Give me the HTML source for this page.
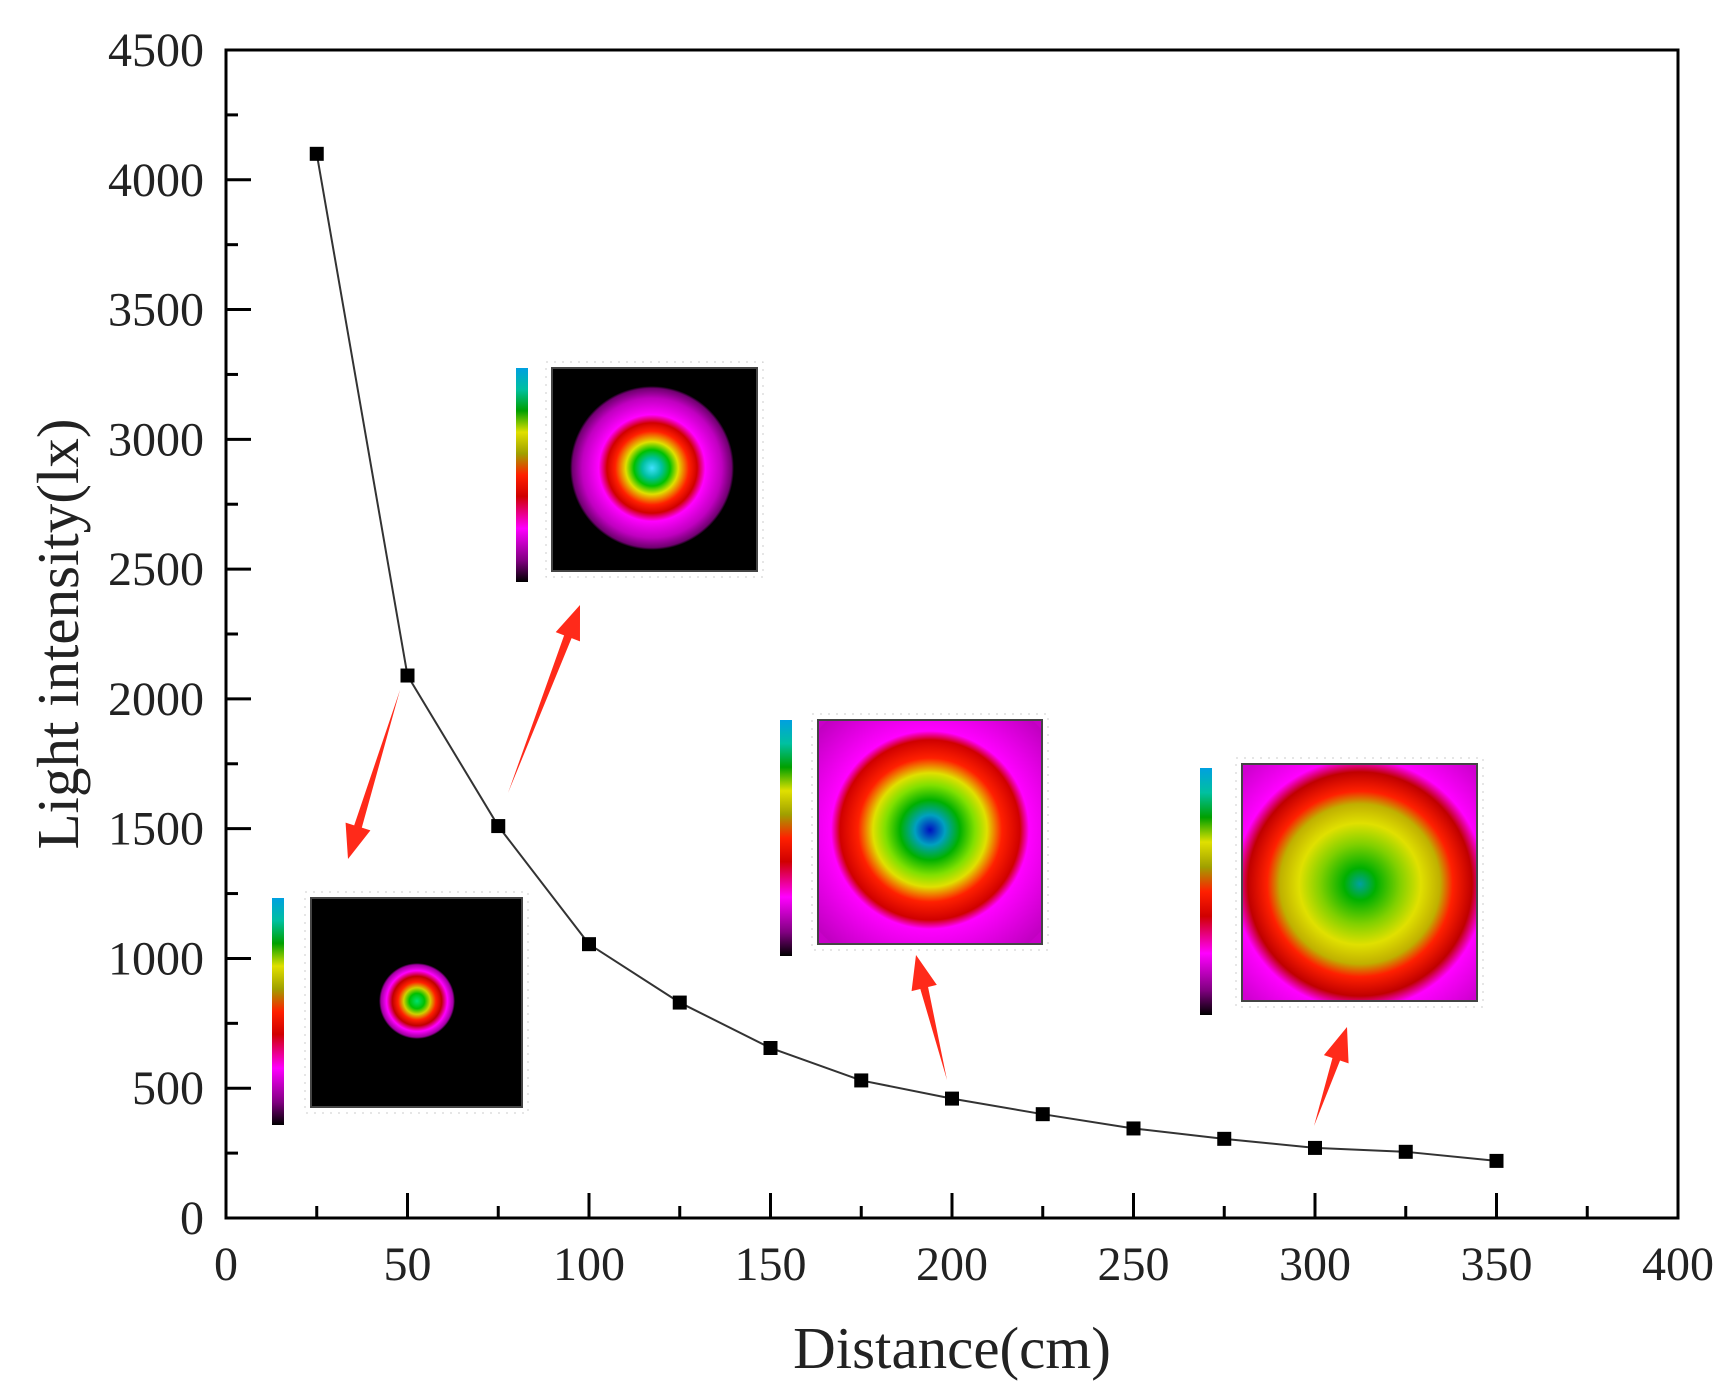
<!DOCTYPE html>
<html><head><meta charset="utf-8"><style>
html,body{margin:0;padding:0;background:#fff}
svg{display:block}
text{font-family:"Liberation Serif",serif;fill:#222}
</style></head><body>
<svg id="chart" width="1731" height="1397" viewBox="0 0 1731 1397" xmlns="http://www.w3.org/2000/svg">
<defs>
<radialGradient id="g1" gradientUnits="userSpaceOnUse" cx="417" cy="1001" r="38">
<stop offset="0" stop-color="#00e070"/><stop offset="0.2" stop-color="#00c000"/><stop offset="0.35" stop-color="#d0d000"/><stop offset="0.5" stop-color="#ff2000"/><stop offset="0.65" stop-color="#c00000"/><stop offset="0.8" stop-color="#ff00ff"/><stop offset="0.95" stop-color="#a000a0"/><stop offset="1" stop-color="#000"/>
</radialGradient>
<radialGradient id="g2" gradientUnits="userSpaceOnUse" cx="652" cy="468" r="82">
<stop offset="0" stop-color="#40e0ff"/><stop offset="0.12" stop-color="#00c0a0"/><stop offset="0.22" stop-color="#00c000"/><stop offset="0.32" stop-color="#e0e000"/><stop offset="0.45" stop-color="#ff2000"/><stop offset="0.55" stop-color="#d00000"/><stop offset="0.65" stop-color="#ff00ff"/><stop offset="0.85" stop-color="#c000c0"/><stop offset="0.97" stop-color="#700070"/><stop offset="1" stop-color="#000"/>
</radialGradient>
<radialGradient id="g3" gradientUnits="userSpaceOnUse" cx="930" cy="830" r="150">
<stop offset="0" stop-color="#0010c0"/><stop offset="0.1" stop-color="#00a0c0"/><stop offset="0.2" stop-color="#00b000"/><stop offset="0.3" stop-color="#80e000"/><stop offset="0.38" stop-color="#e0e000"/><stop offset="0.48" stop-color="#ff2000"/><stop offset="0.6" stop-color="#d00000"/><stop offset="0.66" stop-color="#ff00ff"/><stop offset="1" stop-color="#c000c0"/>
</radialGradient>
<radialGradient id="g4" gradientUnits="userSpaceOnUse" cx="1360" cy="884" r="160">
<stop offset="0" stop-color="#00a0a0"/><stop offset="0.1" stop-color="#00b000"/><stop offset="0.25" stop-color="#80d000"/><stop offset="0.38" stop-color="#e0e000"/><stop offset="0.5" stop-color="#c0b000"/><stop offset="0.58" stop-color="#ff2000"/><stop offset="0.7" stop-color="#c00000"/><stop offset="0.78" stop-color="#ff00ff"/><stop offset="1" stop-color="#d000d0"/>
</radialGradient>
<linearGradient id="cb" x1="0" y1="1" x2="0" y2="0">
<stop offset="0" stop-color="#000"/><stop offset="0.1" stop-color="#800080"/><stop offset="0.25" stop-color="#ff00ff"/><stop offset="0.4" stop-color="#d00000"/><stop offset="0.5" stop-color="#ff2000"/><stop offset="0.6" stop-color="#a0a000"/><stop offset="0.7" stop-color="#e0e000"/><stop offset="0.8" stop-color="#00a000"/><stop offset="0.9" stop-color="#00c0a0"/><stop offset="1" stop-color="#00a0e0"/>
</linearGradient>
</defs>
<g id="insets"></g>
<g id="axes"></g>
<g id="series"></g>
</svg>
<script>
const xVals=[25,50,75,100,125,150,175,200,225,250,275,300,325,350];
const yVals=[4100,2090,1510,1055,830,655,530,460,400,345,305,270,255,220];
const xTicks=[0,50,100,150,200,250,300,350,400];
const yTicks=[0,500,1000,1500,2000,2500,3000,3500,4000,4500];
const L=226,R=1678,T=50,B=1218;
const sx=v=>L+(v-0)/400*(R-L);
const sy=v=>B-(v-0)/4500*(B-T);
const NS="http://www.w3.org/2000/svg";
function mk(tag,attrs,parent,txt){const e=document.createElementNS(NS,tag);for(const k in attrs)e.setAttribute(k,attrs[k]);if(txt!==undefined)e.textContent=txt;parent.appendChild(e);return e;}
const ins=document.getElementById('insets');
const ax=document.getElementById('axes');
const se=document.getElementById('series');

const insetDefs=[
 {m:[311,898,211,209],cb:[272,898,12,227],bg:'#000',g:'url(#g1)',c:[417,1001],r:38},
 {m:[552,368,205,203],cb:[516,368,12,214],bg:'#000',g:'url(#g2)',c:[652,468],r:82},
 {m:[818,720,224,224],cb:[780,720,12,236],bg:'#c800c8',g:'url(#g3)',c:[930,830],r:150},
 {m:[1242,764,235,237],cb:[1200,768,12,247],bg:'#d000d0',g:'url(#g4)',c:[1360,884],r:160}
];
insetDefs.forEach((d,i)=>{
 const g=mk('g',{},ins);
 
 
 mk('rect',{x:d.m[0]-6,y:d.m[1]-6,width:d.m[2]+12,height:d.m[3]+12,fill:'none',stroke:'#ccc','stroke-width':1,'stroke-dasharray':'2 6'},g);
 mk('rect',{x:d.m[0],y:d.m[1],width:d.m[2],height:d.m[3],fill:d.bg},g);
 const cp='cp'+i;
 const c=mk('clipPath',{id:cp},g);mk('rect',{x:d.m[0],y:d.m[1],width:d.m[2],height:d.m[3]},c);
 mk('circle',{cx:d.c[0],cy:d.c[1],r:d.r,fill:d.g,'clip-path':'url(#'+cp+')'},g);
 mk('rect',{x:d.m[0],y:d.m[1],width:d.m[2],height:d.m[3],fill:'none',stroke:'#444','stroke-width':2},g);
 const cb=mk('rect',{x:d.cb[0],y:d.cb[1],width:d.cb[2],height:d.cb[3],fill:'url(#cb)'},g);
 
 
});
const arrows=[[400,690,348,859],[508,793,580,605],[947,1080,916,955],[1314,1126,1347,1027]];
arrows.forEach((a,i)=>{
 const [x1,y1,x2,y2]=a;const dx=x2-x1,dy=y2-y1,len=Math.hypot(dx,dy);const ux=dx/len,uy=dy/len,px=-uy,py=ux;
 const hb=[x2-ux*34,y2-uy*34];
 const p=`M${x1},${y1} L${hb[0]+px*4},${hb[1]+py*4} L${hb[0]+px*13},${hb[1]+py*13} L${x2},${y2} L${hb[0]-px*13},${hb[1]-py*13} L${hb[0]-px*4},${hb[1]-py*4} Z`;
 const e=mk('path',{d:p,fill:'#ff2a1a'},ins);
 
 
});

const fr=mk('rect',{x:L,y:T,width:R-L,height:B-T,fill:'none',stroke:'#000','stroke-width':3},ax);


xTicks.forEach((v,i)=>{
 const x=sx(v);
 mk('line',{x1:x,y1:B,x2:x,y2:B-25,stroke:'#000','stroke-width':3},ax);
 if(i<xTicks.length-1){const xm=sx(v+25);mk('line',{x1:xm,y1:B,x2:xm,y2:B-12,stroke:'#000','stroke-width':3},ax);}
 const t=mk('text',{x:x,y:B+62,'font-size':48,'text-anchor':'middle'},ax,String(v));
 
 
});
yTicks.forEach((v,i)=>{
 const y=sy(v);
 mk('line',{x1:L,y1:y,x2:L+25,y2:y,stroke:'#000','stroke-width':3},ax);
 if(i<yTicks.length-1){const ym=sy(v+250);mk('line',{x1:L,y1:ym,x2:L+12,y2:ym,stroke:'#000','stroke-width':3},ax);}
 const t=mk('text',{x:L-22,y:y+16,'font-size':48,'text-anchor':'end'},ax,String(v));
 
 
});
const xt=mk('text',{x:(L+R)/2,y:1368,'font-size':59,'text-anchor':'middle'},ax,'Distance(cm)');


const yt=mk('text',{x:0,y:0,'font-size':59,'text-anchor':'middle',transform:`translate(78,${(T+B)/2}) rotate(-90)`},ax,'Light intensity(lx)');



const pts=xVals.map((x,i)=>[sx(x),sy(yVals[i])]);
const ln=mk('polyline',{points:pts.map(p=>p.join(',')).join(' '),fill:'none',stroke:'#333','stroke-width':2},se);


pts.forEach(p=>{
 const r=mk('rect',{x:p[0]-7,y:p[1]-7,width:14,height:14,fill:'#000'},se);
 
 
});
</script>
</body></html>
